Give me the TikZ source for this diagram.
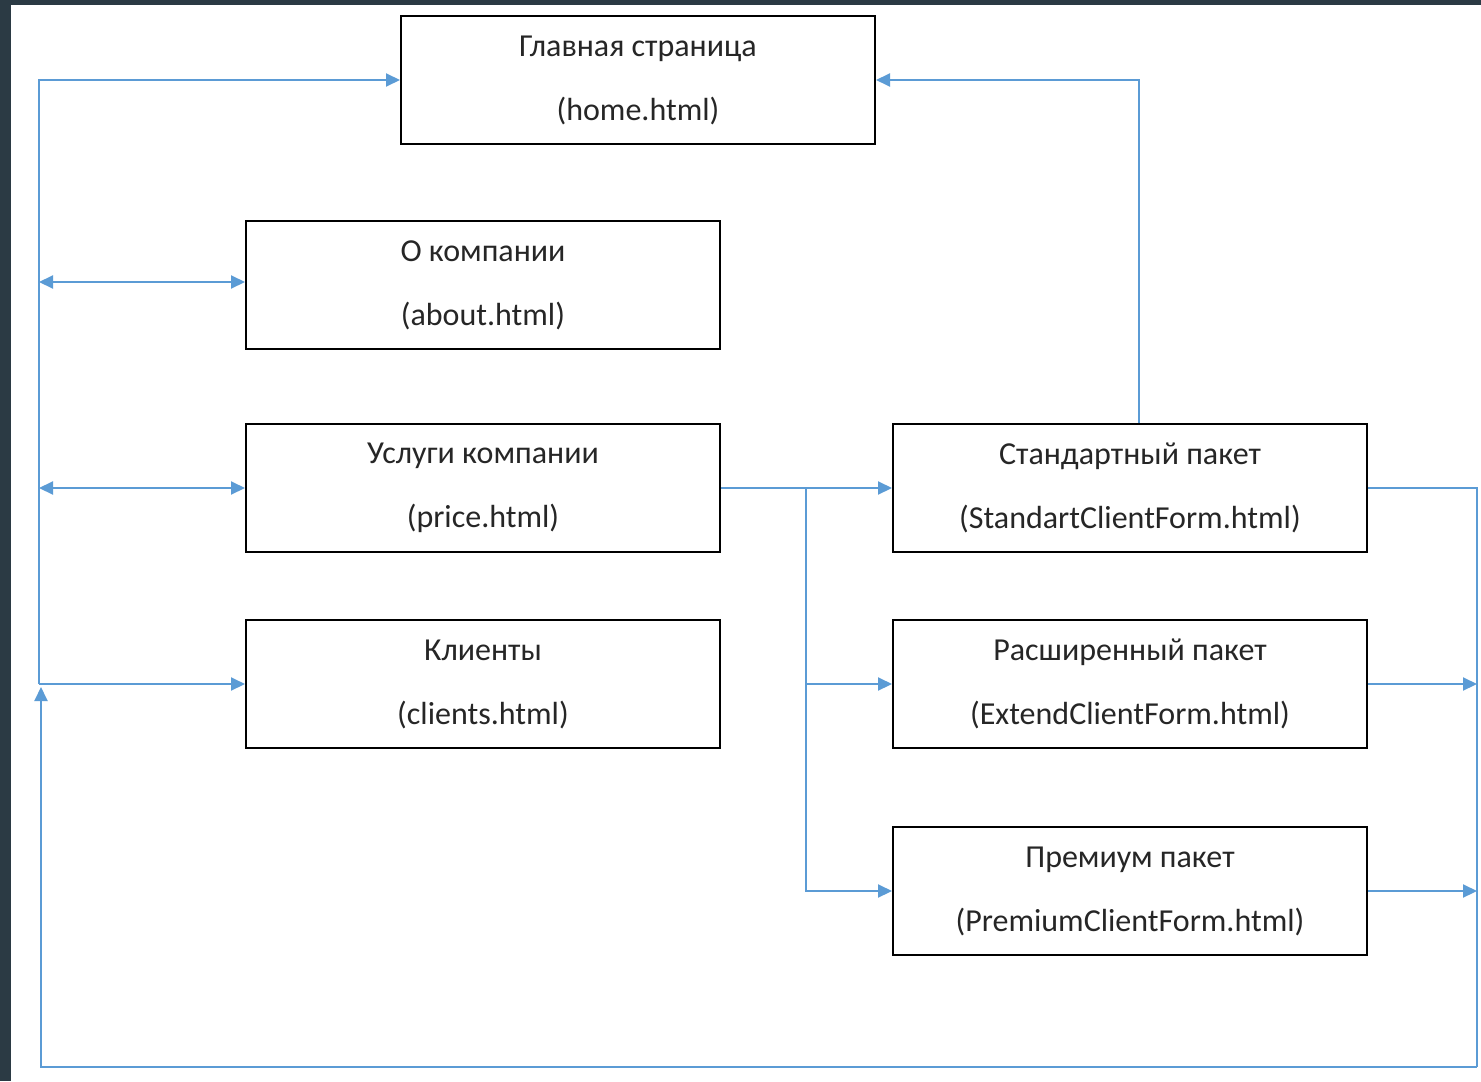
\documentclass[tikz,border=0pt]{standalone}
\usepackage{fontspec}
\setmainfont{Carlito}
\usetikzlibrary{arrows.meta}
\definecolor{linkblue}{HTML}{5B9BD5}
\definecolor{framegray}{HTML}{2B3A44}
\tikzset{
  pagebox/.style={draw=black, line width=1pt, minimum width=237pt, minimum height=64pt,
    inner sep=0pt, align=center, text=black!85, font=\fontsize{16}{19}\selectfont},
  link/.style={draw=linkblue, line width=1pt, >={Triangle[length=7pt,width=6.5pt]}},
}
\begin{document}
\begin{tikzpicture}[x=0.5pt,y=-0.5pt]
  \fill [framegray] (0,0) rectangle (1481,1081); % dark frame
  \fill [white] (11,5) rectangle (1481,1081);
  \useasboundingbox (0,0) rectangle (1481,1081);

  \node [pagebox] (home) at (638,80) {Главная страница\\[13pt](home.html)};

  \node [pagebox] (about) at (483,285) {О компании\\[13pt](about.html)};
  \node [pagebox] (price) at (483,488) {Услуги компании\\[13pt](price.html)};
  \node [pagebox] (clients) at (483,684) {Клиенты\\[13pt](clients.html)};

  \node [pagebox] (standard) at (1130,488) {Стандартный пакет\\[13pt](StandartClientForm.html)};
  \node [pagebox] (extended) at (1130,684) {Расширенный пакет\\[13pt](ExtendClientForm.html)};
  \node [pagebox] (premium) at (1130,891) {Премиум пакет\\[13pt](PremiumClientForm.html)};

  \coordinate (busleft) at (39,684);
  \coordinate (busright) at (1477,1067);
  \coordinate (loopend) at (41,687);
  \coordinate (fork) at (806,488);

  % left bus
  \draw [link, ->] (busleft) |- (home.west);
  \draw [link, <->] ([yshift=1.5pt]about.west -| busleft) -- ([yshift=1.5pt]about.west);
  \draw [link, <->] (price.west -| busleft) -- (price.west);
  \draw [link, ->] (busleft) -- (clients.west);

  % price to the packages
  \draw [link] (price.east) -- (fork);
  \draw [link, ->] (fork) -- (standard.west);
  \draw [link, ->] (fork |- extended.west) -- (extended.west);
  \draw [link, ->] (fork) |- (premium.west);

  % packages back
  \draw [link, ->] ([xshift=4.5pt]standard.north) |- (home.east);
  \draw [link] (standard.east) -| (busright);
  \draw [link, ->] (busright) -| (loopend);
  \draw [link, ->] (extended.east) -- (extended.east -| busright);
  \draw [link, ->] (premium.east) -- (premium.east -| busright);
\end{tikzpicture}
\end{document}
